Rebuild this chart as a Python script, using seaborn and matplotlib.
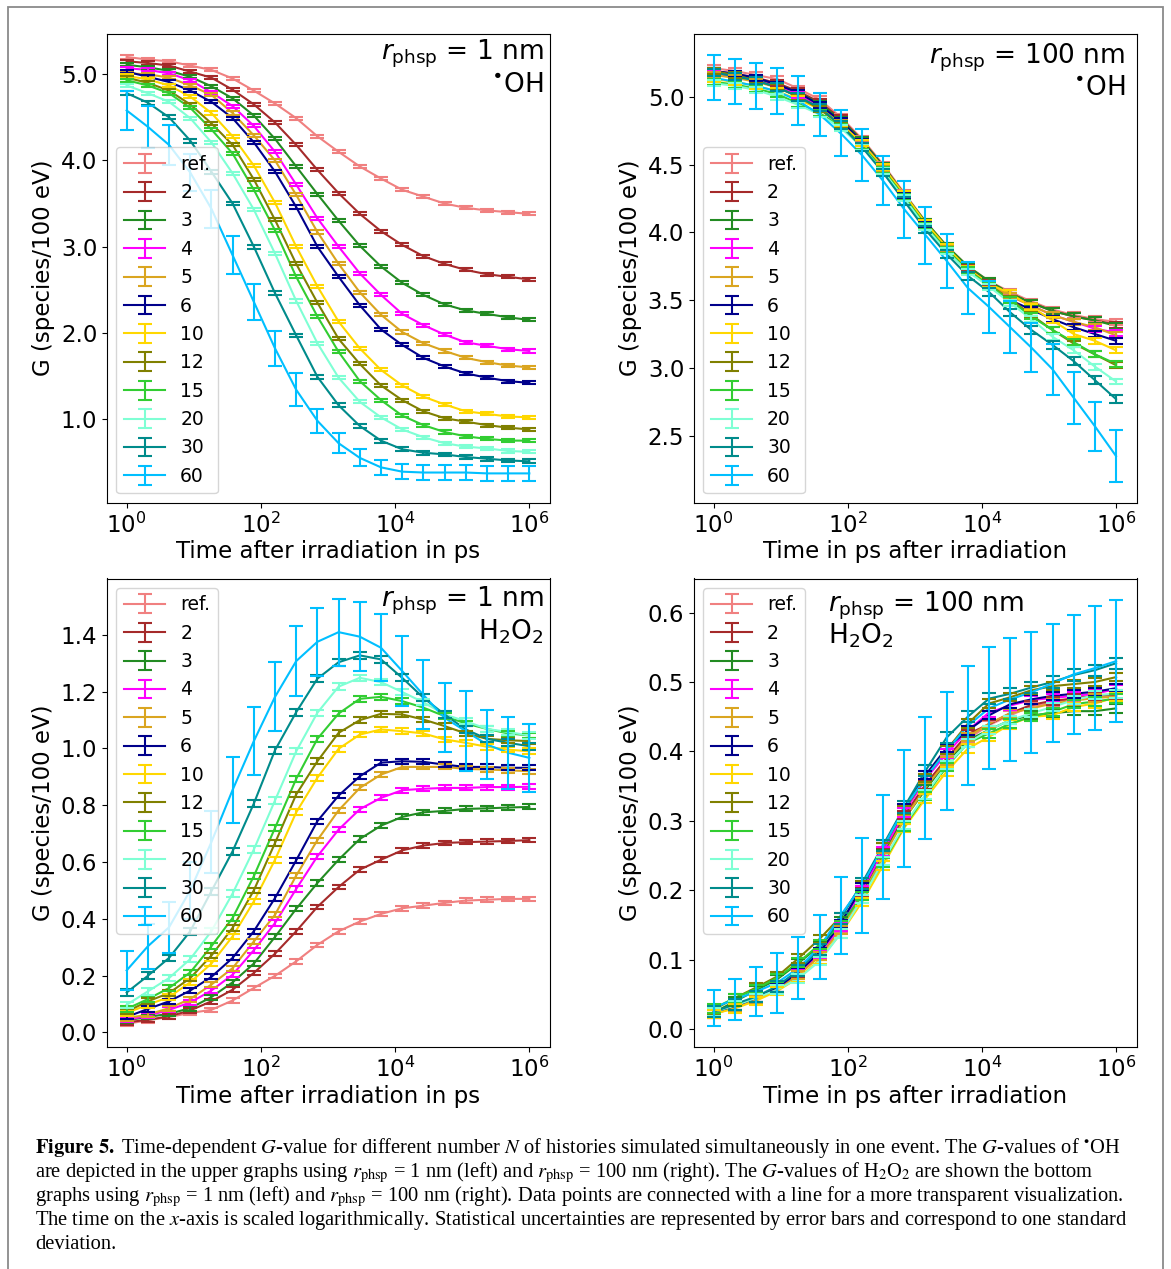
import matplotlib
matplotlib.use("Agg")
import numpy as np
import pandas as pd
import matplotlib.pyplot as plt
import seaborn as sns
from matplotlib.container import ErrorbarContainer
from matplotlib.ticker import FormatStrFormatter, NullLocator
from matplotlib.patches import Rectangle

# ---------------------------------------------------------------- data
LABELS = ["ref.", "2", "3", "4", "5", "6", "10", "12", "15", "20", "30", "60"]
COLORS = ["#F08080", "#A52A2A", "#228B22", "#FF00FF", "#DAA520", "#00008B",
          "#FFD700", "#808000", "#32CD32", "#7FFFD4", "#008B8B", "#00BFFF"]

TIME_PS = [1.0, 2.07, 4.28, 8.86, 18.3, 37.9, 78.5, 162.4, 336.0, 695.2,
           1438.4, 2976.4, 6158.5, 12742.7, 26366.5, 54555.9, 112883.8,
           233572.1, 483293.0, 1000000.0]

# ---- OH, r_phsp = 1 nm (top left)
OH1_REF = [5.20, 5.17, 5.15, 5.10, 5.05, 4.95, 4.81, 4.66, 4.49, 4.28, 4.10, 3.93, 3.79, 3.66, 3.58, 3.50, 3.45, 3.42, 3.40, 3.38]
OH1_2 = [5.15, 5.13, 5.10, 5.03, 4.96, 4.82, 4.65, 4.44, 4.18, 3.89, 3.62, 3.38, 3.18, 3.02, 2.89, 2.80, 2.73, 2.68, 2.65, 2.62]
OH1_3 = [5.11, 5.08, 5.04, 4.97, 4.86, 4.72, 4.52, 4.25, 3.93, 3.61, 3.30, 3.01, 2.77, 2.58, 2.44, 2.33, 2.26, 2.22, 2.18, 2.15]
OH1_4 = [5.07, 5.05, 5.01, 4.93, 4.79, 4.63, 4.40, 4.10, 3.72, 3.33, 3.00, 2.69, 2.44, 2.22, 2.09, 1.98, 1.89, 1.85, 1.81, 1.79]
OH1_5 = [5.01, 5.00, 4.96, 4.87, 4.76, 4.55, 4.29, 4.00, 3.60, 3.17, 2.80, 2.47, 2.21, 2.01, 1.88, 1.79, 1.71, 1.66, 1.62, 1.60]
OH1_6 = [5.03, 4.97, 4.91, 4.81, 4.68, 4.49, 4.21, 3.87, 3.46, 3.00, 2.65, 2.32, 2.04, 1.86, 1.71, 1.61, 1.53, 1.48, 1.44, 1.42]
OH1_10 = [4.98, 4.94, 4.87, 4.74, 4.55, 4.28, 3.94, 3.51, 3.00, 2.54, 2.13, 1.82, 1.57, 1.39, 1.26, 1.17, 1.09, 1.06, 1.03, 1.02]
OH1_12 = [4.96, 4.90, 4.81, 4.65, 4.43, 4.18, 3.78, 3.31, 2.80, 2.35, 1.93, 1.64, 1.39, 1.22, 1.09, 1.01, 0.97, 0.93, 0.90, 0.88]
OH1_15 = [4.93, 4.87, 4.78, 4.61, 4.36, 4.08, 3.66, 3.19, 2.65, 2.19, 1.78, 1.44, 1.22, 1.04, 0.93, 0.85, 0.80, 0.77, 0.75, 0.75]
OH1_20 = [4.87, 4.78, 4.68, 4.49, 4.21, 3.85, 3.43, 2.92, 2.37, 1.88, 1.48, 1.20, 1.02, 0.88, 0.79, 0.72, 0.68, 0.66, 0.63, 0.62]
OH1_30 = [4.78, 4.67, 4.50, 4.23, 3.87, 3.50, 3.00, 2.46, 1.97, 1.49, 1.16, 0.92, 0.75, 0.65, 0.61, 0.59, 0.56, 0.54, 0.52, 0.51]
OH1_60 = [4.58, 4.39, 4.18, 3.86, 3.44, 2.90, 2.36, 1.82, 1.34, 0.98, 0.72, 0.55, 0.44, 0.39, 0.38, 0.38, 0.38, 0.37, 0.37, 0.37]
OH1_ERR = [0.018, 0.018, 0.018, 0.018, 0.018, 0.018, 0.018, 0.018, 0.018, 0.018, 0.022]
OH1_60_ERR = [0.23, 0.245, 0.23, 0.22, 0.22, 0.22, 0.21, 0.20, 0.19, 0.14, 0.116, 0.10, 0.087, 0.09, 0.09, 0.09, 0.09, 0.09, 0.09, 0.09]

# ---- OH, r_phsp = 100 nm (top right)
OH100_REF = [5.21, 5.19, 5.16, 5.13, 5.06, 4.98, 4.85, 4.69, 4.50, 4.29, 4.08, 3.90, 3.75, 3.64, 3.56, 3.49, 3.43, 3.39, 3.36, 3.34]
OH100_2 = [5.19, 5.17, 5.14, 5.10, 5.04, 4.96, 4.84, 4.68, 4.49, 4.28, 4.07, 3.89, 3.74, 3.63, 3.55, 3.48, 3.42, 3.38, 3.35, 3.32]
OH100_3 = [5.19, 5.16, 5.13, 5.09, 5.03, 4.95, 4.83, 4.68, 4.49, 4.28, 4.08, 3.90, 3.75, 3.64, 3.55, 3.48, 3.42, 3.38, 3.35, 3.31]
OH100_4 = [5.17, 5.15, 5.12, 5.08, 5.01, 4.93, 4.81, 4.66, 4.47, 4.27, 4.06, 3.88, 3.73, 3.62, 3.53, 3.46, 3.39, 3.34, 3.29, 3.26]
OH100_5 = [5.16, 5.14, 5.11, 5.07, 5.00, 4.92, 4.81, 4.66, 4.47, 4.27, 4.06, 3.88, 3.73, 3.62, 3.53, 3.46, 3.39, 3.34, 3.30, 3.24]
OH100_6 = [5.19, 5.17, 5.14, 5.09, 5.03, 4.94, 4.82, 4.67, 4.48, 4.27, 4.06, 3.87, 3.72, 3.61, 3.50, 3.43, 3.36, 3.30, 3.25, 3.20]
OH100_10 = [5.13, 5.11, 5.08, 5.04, 4.98, 4.91, 4.80, 4.66, 4.48, 4.28, 4.07, 3.89, 3.73, 3.62, 3.55, 3.45, 3.35, 3.25, 3.20, 3.13]
OH100_12 = [5.19, 5.16, 5.12, 5.07, 5.00, 4.91, 4.79, 4.64, 4.46, 4.26, 4.05, 3.87, 3.72, 3.61, 3.51, 3.39, 3.28, 3.18, 3.10, 3.02]
OH100_15 = [5.11, 5.09, 5.06, 5.02, 4.95, 4.88, 4.78, 4.64, 4.46, 4.26, 4.05, 3.87, 3.72, 3.61, 3.50, 3.38, 3.28, 3.19, 3.10, 3.03]
OH100_20 = [5.10, 5.08, 5.05, 5.00, 4.94, 4.87, 4.77, 4.63, 4.45, 4.25, 4.04, 3.86, 3.71, 3.60, 3.48, 3.36, 3.23, 3.13, 3.01, 2.90]
OH100_30 = [5.18, 5.15, 5.12, 5.07, 5.00, 4.92, 4.79, 4.63, 4.44, 4.23, 4.02, 3.84, 3.68, 3.56, 3.41, 3.28, 3.17, 3.05, 2.91, 2.77]
OH100_60 = [5.14, 5.11, 5.08, 5.04, 4.97, 4.87, 4.73, 4.57, 4.38, 4.17, 3.98, 3.79, 3.59, 3.45, 3.30, 3.15, 2.99, 2.78, 2.57, 2.35]
OH100_ERR = [0.022, 0.022, 0.022, 0.022, 0.022, 0.022, 0.022, 0.022, 0.022, 0.022, 0.028]
OH100_60_ERR = [0.165, 0.165, 0.17, 0.17, 0.18, 0.16, 0.17, 0.19, 0.18, 0.21, 0.21, 0.20, 0.19, 0.19, 0.19, 0.18, 0.19, 0.19, 0.18, 0.19]

# ---- H2O2, r_phsp = 1 nm (bottom left)
H1_REF = [0.030, 0.042, 0.054, 0.068, 0.079, 0.112, 0.156, 0.199, 0.250, 0.308, 0.356, 0.390, 0.417, 0.437, 0.446, 0.456, 0.464, 0.467, 0.470, 0.470]
H1_2 = [0.035, 0.044, 0.056, 0.077, 0.109, 0.150, 0.209, 0.277, 0.356, 0.442, 0.512, 0.573, 0.608, 0.641, 0.658, 0.667, 0.670, 0.672, 0.674, 0.677]
H1_3 = [0.042, 0.054, 0.065, 0.085, 0.124, 0.176, 0.242, 0.336, 0.435, 0.526, 0.608, 0.681, 0.728, 0.759, 0.775, 0.780, 0.787, 0.789, 0.792, 0.794]
H1_4 = [0.044, 0.058, 0.079, 0.105, 0.147, 0.203, 0.289, 0.385, 0.505, 0.620, 0.714, 0.786, 0.826, 0.853, 0.858, 0.861, 0.861, 0.864, 0.864, 0.865]
H1_5 = [0.050, 0.062, 0.085, 0.117, 0.168, 0.226, 0.320, 0.414, 0.552, 0.677, 0.782, 0.861, 0.908, 0.935, 0.935, 0.935, 0.928, 0.926, 0.923, 0.920]
H1_6 = [0.054, 0.082, 0.109, 0.147, 0.195, 0.262, 0.356, 0.473, 0.606, 0.744, 0.834, 0.902, 0.950, 0.955, 0.953, 0.943, 0.935, 0.935, 0.932, 0.932]
H1_10 = [0.068, 0.097, 0.124, 0.176, 0.242, 0.338, 0.461, 0.608, 0.775, 0.897, 0.999, 1.049, 1.067, 1.061, 1.053, 1.032, 1.020, 1.006, 0.996, 0.990]
H1_12 = [0.073, 0.109, 0.138, 0.191, 0.270, 0.368, 0.500, 0.667, 0.838, 0.955, 1.055, 1.100, 1.122, 1.120, 1.102, 1.079, 1.053, 1.034, 1.029, 1.026]
H1_15 = [0.082, 0.117, 0.156, 0.211, 0.303, 0.403, 0.550, 0.720, 0.893, 1.034, 1.123, 1.175, 1.182, 1.167, 1.144, 1.114, 1.088, 1.069, 1.053, 1.046]
H1_20 = [0.097, 0.144, 0.191, 0.258, 0.356, 0.489, 0.644, 0.817, 0.990, 1.126, 1.218, 1.249, 1.234, 1.199, 1.163, 1.120, 1.096, 1.069, 1.058, 1.046]
H1_30 = [0.140, 0.199, 0.262, 0.356, 0.497, 0.638, 0.806, 0.994, 1.128, 1.246, 1.304, 1.328, 1.314, 1.249, 1.179, 1.120, 1.067, 1.034, 1.020, 1.008]
H1_60 = [0.218, 0.303, 0.370, 0.500, 0.670, 0.854, 1.026, 1.182, 1.308, 1.376, 1.410, 1.394, 1.355, 1.273, 1.189, 1.108, 1.061, 1.014, 0.985, 0.967]
H1_ERR = [0.008, 0.008, 0.009, 0.009, 0.009, 0.009, 0.01, 0.01, 0.01, 0.011, 0.012]
H1_60_ERR = [0.07, 0.08, 0.09, 0.10, 0.11, 0.116, 0.121, 0.122, 0.123, 0.12, 0.118, 0.122, 0.118, 0.124, 0.122, 0.121, 0.141, 0.121, 0.127, 0.12]

# ---- H2O2, r_phsp = 100 nm (bottom right)
H100_REF = [0.022, 0.032, 0.043, 0.058, 0.078, 0.106, 0.146, 0.196, 0.252, 0.306, 0.352, 0.389, 0.418, 0.438, 0.452, 0.465, 0.470, 0.477, 0.481, 0.482]
H100_2 = [0.023, 0.033, 0.045, 0.060, 0.080, 0.108, 0.148, 0.198, 0.254, 0.308, 0.352, 0.390, 0.425, 0.439, 0.455, 0.467, 0.473, 0.476, 0.480, 0.481]
H100_3 = [0.024, 0.040, 0.056, 0.072, 0.095, 0.120, 0.155, 0.200, 0.252, 0.303, 0.345, 0.385, 0.416, 0.431, 0.445, 0.452, 0.455, 0.458, 0.458, 0.462]
H100_4 = [0.022, 0.032, 0.044, 0.058, 0.079, 0.107, 0.148, 0.200, 0.256, 0.312, 0.360, 0.397, 0.430, 0.456, 0.466, 0.474, 0.477, 0.480, 0.483, 0.490]
H100_5 = [0.022, 0.031, 0.043, 0.057, 0.078, 0.105, 0.143, 0.192, 0.248, 0.302, 0.348, 0.386, 0.421, 0.440, 0.455, 0.462, 0.469, 0.473, 0.477, 0.479]
H100_6 = [0.023, 0.033, 0.045, 0.060, 0.082, 0.111, 0.152, 0.205, 0.262, 0.318, 0.366, 0.405, 0.430, 0.452, 0.468, 0.475, 0.480, 0.483, 0.486, 0.491]
H100_10 = [0.022, 0.030, 0.041, 0.055, 0.074, 0.100, 0.138, 0.183, 0.236, 0.290, 0.332, 0.371, 0.404, 0.421, 0.439, 0.450, 0.452, 0.464, 0.469, 0.478]
H100_12 = [0.028, 0.045, 0.060, 0.076, 0.102, 0.130, 0.162, 0.208, 0.262, 0.316, 0.362, 0.402, 0.440, 0.469, 0.478, 0.488, 0.494, 0.497, 0.500, 0.507]
H100_15 = [0.030, 0.045, 0.058, 0.074, 0.096, 0.122, 0.150, 0.192, 0.240, 0.292, 0.336, 0.378, 0.412, 0.426, 0.440, 0.450, 0.457, 0.468, 0.472, 0.476]
H100_20 = [0.025, 0.034, 0.045, 0.057, 0.073, 0.098, 0.138, 0.188, 0.242, 0.294, 0.338, 0.380, 0.412, 0.431, 0.445, 0.455, 0.464, 0.474, 0.481, 0.483]
H100_30 = [0.025, 0.036, 0.047, 0.062, 0.085, 0.115, 0.160, 0.210, 0.265, 0.320, 0.372, 0.420, 0.450, 0.476, 0.483, 0.492, 0.500, 0.510, 0.517, 0.527]
H100_60 = [0.031, 0.043, 0.054, 0.067, 0.088, 0.118, 0.164, 0.207, 0.262, 0.318, 0.362, 0.401, 0.437, 0.462, 0.475, 0.485, 0.498, 0.511, 0.520, 0.530]
H100_ERR = [0.006, 0.006, 0.006, 0.006, 0.006, 0.006, 0.006, 0.006, 0.006, 0.006, 0.008]
H100_60_ERR = [0.026, 0.029, 0.035, 0.043, 0.045, 0.046, 0.055, 0.068, 0.075, 0.084, 0.0875, 0.085, 0.0855, 0.088, 0.089, 0.0875, 0.085, 0.086, 0.089, 0.0875]

# ---------------------------------------------------------------- style
sns.set_style("ticks", {"axes.edgecolor": "black", "xtick.color": "black",
                        "ytick.color": "black", "text.color": "black",
                        "axes.labelcolor": "black"})
plt.rcParams["font.family"] = ["DejaVu Sans"]
plt.rcParams["mathtext.fontset"] = "dejavusans"
plt.rcParams["lines.solid_capstyle"] = "projecting"

FS_TICK = 16.5
FS_LABEL = 16.5
FS_LEG = 13.5
FS_ANN = 19

fig = plt.figure(figsize=(11.71, 12.69), dpi=100)
W, H = 1171.0, 1269.0


def box(l, t, r, b):
    return [l / W, 1 - b / H, (r - l) / W, (b - t) / H]


ax_tl = fig.add_axes(box(107, 33.7, 550, 502.7))
ax_tr = fig.add_axes(box(694, 33.7, 1136.7, 502.7))
ax_bl = fig.add_axes(box(107, 578.5, 550, 1047.3))
ax_br = fig.add_axes(box(694, 578.5, 1136.7, 1047.3))


def draw_panel(ax, series, err_small, err_60, ylim, yticks, xlabel, legloc):
    ax.set_xscale("log")
    rows = []
    for lab, vals in zip(LABELS, series):
        for t, g in zip(TIME_PS, vals):
            rows.append({"t": t, "G": g, "N": lab})
    df = pd.DataFrame(rows)
    sns.lineplot(data=df, x="t", y="G", hue="N", hue_order=LABELS,
                 palette=COLORS, legend=False, errorbar=None, ax=ax,
                 linewidth=1.5)
    lines = list(ax.lines)
    errs = list(err_small) + [err_60]
    handles = []
    for lab, vals, err, col, ln in zip(LABELS, series, errs, COLORS, lines):
        eb = ax.errorbar(TIME_PS, vals, yerr=err, fmt="none", ecolor=col,
                         elinewidth=1.5, capsize=5, capthick=1.5)
        handles.append(ErrorbarContainer((ln, eb.lines[1], eb.lines[2]),
                                         has_xerr=False, has_yerr=True,
                                         label=lab))
    ax.set_xlim(10 ** -0.293, 10 ** 6.308)
    ax.set_ylim(*ylim)
    ax.set_xticks([1, 1e2, 1e4, 1e6])
    ax.xaxis.set_minor_locator(NullLocator())
    ax.set_yticks(yticks)
    ax.yaxis.set_major_formatter(FormatStrFormatter("%.1f"))
    ax.tick_params(labelsize=FS_TICK, length=3.5, width=0.8, direction="out")
    ax.set_xlabel(xlabel, fontsize=FS_LABEL, labelpad=2)
    ax.set_ylabel("G (species/100 eV)", fontsize=FS_LABEL)
    for s in ax.spines.values():
        s.set_linewidth(0.8)
        s.set_visible(True)
    leg = ax.legend(handles=handles, loc=legloc, fontsize=FS_LEG,
                    labelspacing=0.5, handlelength=2.2, handletextpad=0.8,
                    borderaxespad=0.5, frameon=True, fancybox=True,
                    framealpha=0.8, edgecolor="0.8")
    return leg


draw_panel(ax_tl,
           [OH1_REF, OH1_2, OH1_3, OH1_4, OH1_5, OH1_6, OH1_10, OH1_12,
            OH1_15, OH1_20, OH1_30, OH1_60],
           OH1_ERR, OH1_60_ERR, (0.03, 5.47), [1.0, 2.0, 3.0, 4.0, 5.0],
           "Time after irradiation in ps", "lower left")
draw_panel(ax_tr,
           [OH100_REF, OH100_2, OH100_3, OH100_4, OH100_5, OH100_6,
            OH100_10, OH100_12, OH100_15, OH100_20, OH100_30, OH100_60],
           OH100_ERR, OH100_60_ERR, (2.006, 5.465),
           [2.5, 3.0, 3.5, 4.0, 4.5, 5.0],
           "Time in ps after irradiation", "lower left")
draw_panel(ax_bl,
           [H1_REF, H1_2, H1_3, H1_4, H1_5, H1_6, H1_10, H1_12, H1_15,
            H1_20, H1_30, H1_60],
           H1_ERR, H1_60_ERR, (-0.053, 1.599),
           [0.0, 0.2, 0.4, 0.6, 0.8, 1.0, 1.2, 1.4],
           "Time after irradiation in ps", "upper left")
draw_panel(ax_br,
           [H100_REF, H100_2, H100_3, H100_4, H100_5, H100_6, H100_10,
            H100_12, H100_15, H100_20, H100_30, H100_60],
           H100_ERR, H100_60_ERR, (-0.026, 0.649),
           [0.0, 0.1, 0.2, 0.3, 0.4, 0.5, 0.6],
           "Time in ps after irradiation", "upper left")

# panel annotations
R1 = r"$r_{\mathrm{phsp}}$ = 1 nm"
R100 = r"$r_{\mathrm{phsp}}$ = 100 nm"
OHT = r"$^{\bullet}$OH"
H2O2T = r"H$_2$O$_2$"
ax_tl.text(0.985, 0.945, R1, transform=ax_tl.transAxes, ha="right", va="baseline", fontsize=FS_ANN)
ax_tl.text(0.985, 0.876, OHT, transform=ax_tl.transAxes, ha="right", va="baseline", fontsize=FS_ANN)
ax_tr.text(0.974, 0.937, R100, transform=ax_tr.transAxes, ha="right", va="baseline", fontsize=FS_ANN)
ax_tr.text(0.974, 0.869, OHT, transform=ax_tr.transAxes, ha="right", va="baseline", fontsize=FS_ANN)
ax_bl.text(0.985, 0.940, R1, transform=ax_bl.transAxes, ha="right", va="baseline", fontsize=FS_ANN)
ax_bl.text(0.985, 0.869, H2O2T, transform=ax_bl.transAxes, ha="right", va="baseline", fontsize=FS_ANN)
ax_br.text(0.303, 0.929, R100, transform=ax_br.transAxes, ha="left", va="baseline", fontsize=FS_ANN)
ax_br.text(0.303, 0.862, H2O2T, transform=ax_br.transAxes, ha="left", va="baseline", fontsize=FS_ANN)

# caption
CAPTION = [
    r"$\mathbf{Figure\ 5.}$ Time-dependent $G$-value for different number $N$ of histories simulated simultaneously in one event. The $G$-values of $^{\bullet}$OH",
    r"are depicted in the upper graphs using $r_{\mathrm{phsp}}$ = 1 nm (left) and $r_{\mathrm{phsp}}$ = 100 nm (right). The $G$-values of H$_2$O$_2$ are shown the bottom",
    r"graphs using $r_{\mathrm{phsp}}$ = 1 nm (left) and $r_{\mathrm{phsp}}$ = 100 nm (right). Data points are connected with a line for a more transparent visualization.",
    r"The time on the $x$-axis is scaled logarithmically. Statistical uncertainties are represented by error bars and correspond to one standard",
    "deviation.",
]
for i, line in enumerate(CAPTION):
    yb = 1153 + 24 * i
    fig.text(35 / W, 1 - yb / H, line, family="Liberation Serif",
             math_fontfamily="stix", fontsize=14.8, va="baseline", ha="left")

# outer frame
fig.patches.append(Rectangle((8 / W, -0.01), (1163 - 8) / W, (1269 - 7) / H + 0.01,
                             transform=fig.transFigure, fill=False,
                             edgecolor="#8a8a8a", linewidth=1.3))

fig.savefig("out.png", dpi=100)
